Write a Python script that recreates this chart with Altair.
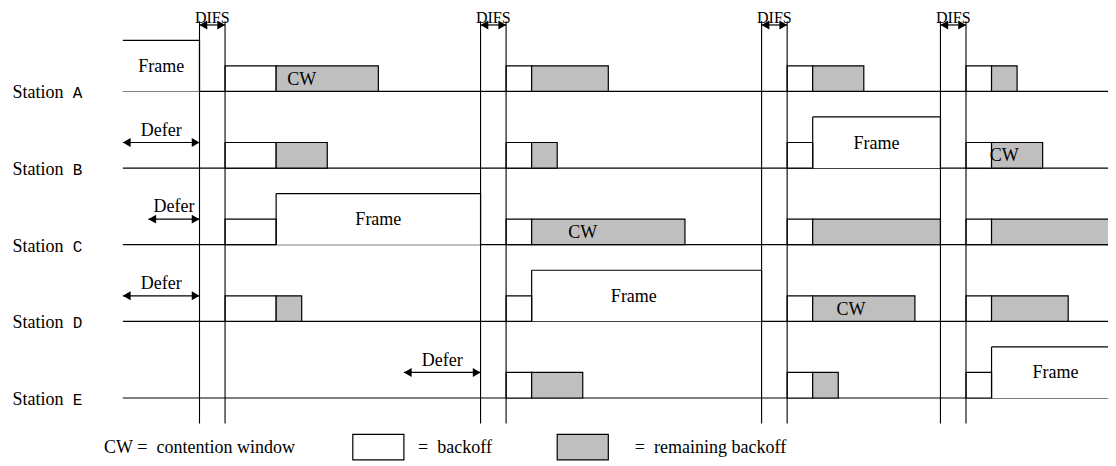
import altair as alt
import pandas as pd

# ---------------- data (time and level in slot units) ----------------
stations = ["A", "B", "C", "D", "E"]
station_level = [12, 9, 6, 3, 0]

difs_start = [3, 14, 25, 32]
difs_len = 1

backoff_station = ["A", "B", "C", "D"] + ["A", "B", "C", "D", "E"] * 3
backoff_start = [4, 4, 4, 4] + [15] * 5 + [26] * 5 + [33] * 5
backoff_end = [6, 6, 6, 6] + [16] * 5 + [27] * 5 + [34] * 5

remaining_station = ["A", "B", "D", "A", "B", "C", "E", "A", "C", "D", "E", "A", "B", "C", "D"]
remaining_start = [6, 6, 6, 16, 16, 16, 16, 27, 27, 27, 27, 34, 34, 34, 34]
remaining_end = [10, 8, 7, 19, 17, 22, 18, 29, 32, 31, 28, 35, 36, 40, 37]

frame_station = ["A", "C", "D", "B", "E"]
frame_start = [0, 6, 16, 27, 34]
frame_end = [3, 14, 25, 32, 40]
frame_label_x = [1.5, 10, 20, 29.5, 36.5]

cw_station = ["A", "C", "D", "B"]
cw_label_x = [7, 18, 28.5, 34.5]

defer_station = ["B", "C", "D", "E"]
defer_start = [0, 1, 0, 11]
defer_end = [3, 3, 3, 14]

EN = "\u2002"
legend_text = ["CW =" + EN + "contention window", "=" + EN + "backoff", "=" + EN + "remaining backoff"]
legend_text_x = [3, 13, 23]
legend_box_start = [9, 17]
legend_box_end = [11, 19]
legend_box_kind = ["backoff", "remaining"]
legend_level = -1.92

timeline_end = 40
line_bottom = -1
line_top = 14.75
difs_arrow_level = 14.6

# ---------------- geometry of the canvas ----------------
U = 25.55      # px per slot
X0 = 122.85    # px of time 0
Y0 = 398.0     # px of level 0
W, H = 1116, 466
xs = alt.Scale(domain=[(0 - X0) / U, (W - X0) / U], nice=False, zero=False)
ys = alt.Scale(domain=[(Y0 - H) / U, Y0 / U], nice=False, zero=False)

SERIF = "Liberation Serif, Times New Roman, DejaVu Serif, serif"
MONO = "Liberation Mono, Courier New, DejaVu Sans Mono, monospace"
GRAY = "#bfbfbf"
lvl = dict(zip(stations, station_level))


def X(f="x"):
    return alt.X(f"{f}:Q", scale=xs, axis=None)


def Y(f="y"):
    return alt.Y(f"{f}:Q", scale=ys, axis=None)


# ---------------- tables ----------------
base_df = pd.DataFrame({"x": 0, "x2": timeline_end, "y": station_level})

box_rows = []
for s, a, b in zip(backoff_station, backoff_start, backoff_end):
    box_rows.append({"x": a, "x2": b, "y": lvl[s], "y2": lvl[s] + 1, "kind": "backoff"})
for s, a, b in zip(remaining_station, remaining_start, remaining_end):
    box_rows.append({"x": a, "x2": b, "y": lvl[s], "y2": lvl[s] + 1, "kind": "remaining"})
for a, b, k in zip(legend_box_start, legend_box_end, legend_box_kind):
    box_rows.append({"x": a, "x2": b, "y": legend_level - 0.5, "y2": legend_level + 0.5, "kind": k})
box_df = pd.DataFrame(box_rows)

frame_fill = pd.DataFrame({
    "x": frame_start, "x2": frame_end,
    "y": [lvl[s] for s in frame_station],
    "y2": [lvl[s] + 2 for s in frame_station],
})
edge_rows = []
for s, a, b in zip(frame_station, frame_start, frame_end):
    y0, y1 = lvl[s], lvl[s] + 2
    edge_rows.append({"x": a, "x2": b, "y": y1, "y2": y1})
    edge_rows.append({"x": b, "x2": b, "y": y0, "y2": y1})
    if a > 0:
        edge_rows.append({"x": a, "x2": a, "y": y0, "y2": y1})
edge_df = pd.DataFrame(edge_rows)

vline_df = pd.DataFrame({
    "x": [d + o for d in difs_start for o in (0, difs_len)],
    "y": line_bottom, "y2": line_top,
})

arrow_df = pd.DataFrame({
    "x": [d for d in difs_start] + defer_start,
    "x2": [d + difs_len for d in difs_start] + defer_end,
    "y": [difs_arrow_level] * len(difs_start) + [lvl[s] + 1 for s in defer_station],
})

frame_lbl = pd.DataFrame({"x": frame_label_x, "y": [lvl[s] + 1 for s in frame_station], "t": "Frame"})
cw_lbl = pd.DataFrame({"x": cw_label_x, "y": [lvl[s] + 0.5 for s in cw_station], "t": "CW"})
defer_lbl = pd.DataFrame({
    "x": [(a + b) / 2 for a, b in zip(defer_start, defer_end)],
    "y": [lvl[s] + 1.5 for s in defer_station], "t": "Defer",
})
difs_lbl = pd.DataFrame({"x": [d + difs_len / 2 for d in difs_start], "t": "DIFS"})
legend_lbl = pd.DataFrame({"x": legend_text_x, "y": legend_level, "t": legend_text})
station_lbl = pd.DataFrame({"y": station_level, "s": stations})

# ---------------- layers ----------------
baselines = alt.Chart(base_df).mark_rule(color="black", strokeWidth=1.2, clip=True).encode(
    x=X(), x2="x2:Q", y=Y())

boxes = alt.Chart(box_df).mark_rect(stroke="black", strokeWidth=1.2, clip=True).encode(
    x=X(), x2="x2:Q", y=Y(), y2="y2:Q",
    fill=alt.Fill("kind:N", scale=alt.Scale(domain=["backoff", "remaining"], range=["white", GRAY]),
                  legend=None))

frames = alt.Chart(frame_fill).mark_rect(fill="white", strokeWidth=0, clip=True).encode(
    x=X(), x2="x2:Q", y=Y(), y2="y2:Q")

edges = alt.Chart(edge_df).mark_rule(color="black", strokeWidth=1.2, clip=True).encode(
    x=X(), x2="x2:Q", y=Y(), y2="y2:Q")

vlines = alt.Chart(vline_df).mark_rule(color="black", strokeWidth=1.1).encode(
    x=X(), y=Y(), y2="y2:Q")

HEAD = 80
HOFF = 0.433 * HEAD ** 0.5
arrow_line = alt.Chart(arrow_df).mark_rule(color="black", strokeWidth=1.2).encode(
    x=X(), x2="x2:Q", y=Y())
head_l = alt.Chart(arrow_df).mark_point(shape="triangle-left", filled=True, color="black",
                                        size=HEAD, opacity=1, xOffset=HOFF).encode(x=X(), y=Y())
head_r = alt.Chart(arrow_df).mark_point(shape="triangle-right", filled=True, color="black",
                                        size=HEAD, opacity=1, xOffset=-HOFF).encode(x=X("x2"), y=Y())


def txt(df, size=18, dy=6):
    return alt.Chart(df).mark_text(font=SERIF, fontSize=size, align="center",
                                   baseline="alphabetic", dy=dy, color="black").encode(
        x=X(), y=Y(), text="t:N")


frame_t = txt(frame_lbl)
cw_t = txt(cw_lbl)
defer_t = txt(defer_lbl)
legend_t = txt(legend_lbl)
difs_t = alt.Chart(difs_lbl).mark_text(font=SERIF, fontSize=16, align="center",
                                       baseline="alphabetic", color="black").encode(
    x=X(), y=alt.value(22.5), text="t:N")

station_word = alt.Chart(station_lbl).mark_text(font=SERIF, fontSize=18, align="center",
                                                baseline="alphabetic", dy=7, color="black").encode(
    x=alt.value(38), y=Y(), text=alt.value("Station"))
station_letter = alt.Chart(station_lbl).mark_text(font=MONO, fontSize=16, align="center",
                                                  baseline="alphabetic", dy=7, color="black").encode(
    x=alt.value(77.5), y=Y(), text="s:N")

chart = alt.layer(
    baselines, frames, boxes, edges, vlines, arrow_line, head_l, head_r,
    frame_t, cw_t, defer_t, legend_t, difs_t, station_word, station_letter,
).properties(
    width=W, height=H, autosize="none",
    padding={"left": -8, "top": -8, "right": -8, "bottom": -5},
).configure_view(strokeWidth=0)

chart.save("out.html", embed_options={"renderer": "svg", "actions": False})
